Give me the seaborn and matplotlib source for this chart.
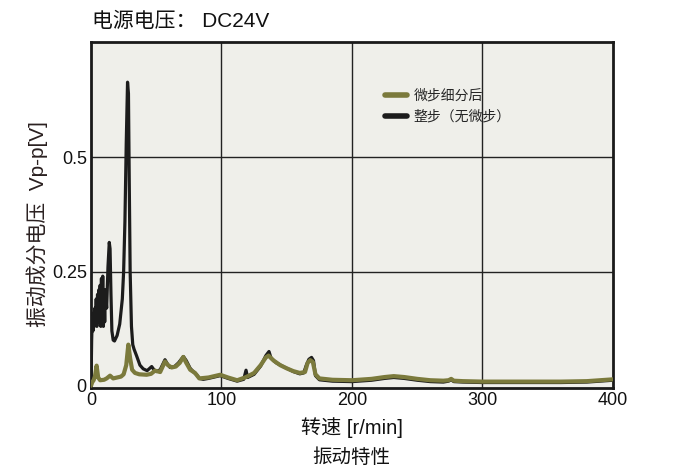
import numpy as np
import matplotlib
matplotlib.use("Agg")
import matplotlib.pyplot as plt
import pandas as pd
import seaborn as sns

# full step (no microstep) - black curve
full_speed = [0, 0.5, 1, 1.5, 2, 2.5, 3, 3.5, 4, 4.5, 5, 5.5, 6, 6.5, 7, 7.5, 8, 8.5, 9, 9.5,
              10, 10.5, 11, 12, 13, 14, 14.6, 15.3, 16, 17, 18, 20, 22, 24, 25, 26, 27, 28,
              28.7, 29.3, 30, 31, 32, 33, 35, 37.5, 40, 43, 46.5, 48, 50, 53, 56.7, 58.5, 60.6,
              64, 67, 70.8, 73, 76, 79, 81, 83, 86, 90, 99, 105, 112, 117, 118.8, 120, 125,
              130, 134, 136.4, 138, 142, 148, 155, 160, 163, 165, 167, 169, 170.5, 172, 175,
              185, 200, 215, 225, 232, 240, 250, 260, 270, 274, 276, 278, 285, 300, 330, 360,
              380, 390, 400]
full_vpp = [0.0, 0.10, 0.15, 0.12, 0.16, 0.13, 0.17, 0.14, 0.19, 0.13, 0.20, 0.15, 0.21, 0.14,
            0.22, 0.13, 0.235, 0.14, 0.24, 0.13, 0.20, 0.14, 0.21, 0.17, 0.26, 0.314, 0.30, 0.20,
            0.12, 0.10, 0.098, 0.11, 0.135, 0.19, 0.25, 0.36, 0.53, 0.665, 0.64, 0.45, 0.25,
            0.13, 0.09, 0.08, 0.065, 0.045, 0.037, 0.033, 0.042, 0.036, 0.031, 0.035, 0.057,
            0.048, 0.040, 0.042, 0.050, 0.064, 0.055, 0.038, 0.029, 0.024, 0.016, 0.014, 0.016,
            0.022, 0.016, 0.010, 0.014, 0.034, 0.018, 0.025, 0.043, 0.066, 0.075, 0.060, 0.050,
            0.041, 0.031, 0.026, 0.028, 0.045, 0.058, 0.062, 0.055, 0.022, 0.013, 0.010, 0.009,
            0.012, 0.016, 0.018, 0.016, 0.012, 0.009, 0.008, 0.010, 0.013, 0.009, 0.008, 0.007,
            0.007, 0.007, 0.008, 0.010, 0.012]

# after microstep subdivision - olive curve
micro_speed = [0, 1, 2, 3, 4.3, 5.5, 7, 10, 12, 14.6, 17, 20, 23, 25, 27, 28.6, 30, 31.5, 33.7,
               37, 42.6, 46, 49, 53, 56.7, 59, 61.8, 65, 68, 70.7, 73, 76, 79.7, 83, 90, 99,
               105, 112, 118, 121, 125, 130, 134, 136, 140, 145, 150, 155, 160, 164, 166, 168,
               170, 172, 175, 185, 200, 215, 225, 232, 240, 250, 260, 270, 274, 276, 278, 285,
               300, 330, 360, 380, 390, 400]
micro_vpp = [0.0, 0.008, 0.012, 0.02, 0.044, 0.018, 0.012, 0.013, 0.016, 0.022, 0.016, 0.018,
             0.02, 0.025, 0.045, 0.09, 0.06, 0.035, 0.028, 0.025, 0.024, 0.026, 0.033, 0.03,
             0.053, 0.045, 0.04, 0.042, 0.05, 0.063, 0.05, 0.035, 0.028, 0.016, 0.018, 0.024,
             0.018, 0.012, 0.018, 0.022, 0.028, 0.045, 0.062, 0.066, 0.055, 0.045, 0.038, 0.032,
             0.028, 0.03, 0.05, 0.056, 0.052, 0.025, 0.016, 0.013, 0.012, 0.015, 0.019, 0.021,
             0.019, 0.015, 0.012, 0.011, 0.012, 0.015, 0.011, 0.010, 0.009, 0.009, 0.009, 0.010,
             0.012, 0.014]

x_ticks = [0, 100, 200, 300, 400]
y_ticks = [0, 0.25, 0.5]
y_tick_labels = ["0", "0.25", "0.5"]

title_text = "电源电压： DC24V"
x_label = "转速 [r/min]"
y_label = "振动成分电压  Vp-p[V]"
caption = "振动特性"
label_micro = "微步细分后"
label_full = "整步（无微步）"

sns.set_theme(style="white")
fam = ["Liberation Sans", "Noto Sans CJK SC", "DejaVu Sans"]
plt.rcParams["font.family"] = fam

olive = "#7b7a3c"
black = "#1c1c1c"

fig = plt.figure(figsize=(6.76, 4.76), dpi=100)
ax = fig.add_axes([91 / 676, 88 / 476, 522 / 676, 346 / 476])
ax.set_facecolor("#efefea")

df_full = pd.DataFrame({"speed": full_speed, "vpp": full_vpp})
df_micro = pd.DataFrame({"speed": micro_speed, "vpp": micro_vpp})
sns.lineplot(data=df_full, x="speed", y="vpp", color=black, linewidth=2.3, ax=ax,
             label=label_full, zorder=3)
sns.lineplot(data=df_micro, x="speed", y="vpp", color=olive, linewidth=3.0, ax=ax,
             label=label_micro, zorder=4)

ax.set_xlim(0, 400)
ax.set_ylim(-0.005, 0.753)
ax.set_xticks(x_ticks)
ax.set_yticks(y_ticks)
ax.set_yticklabels(y_tick_labels)
ax.tick_params(axis="both", labelsize=13, length=0, pad=3, colors="#111111")
for gx in x_ticks[1:-1]:
    ax.axvline(gx, color="#222222", linewidth=1.0, zorder=1)
for gy in y_ticks[1:]:
    ax.axhline(gy, color="#222222", linewidth=1.0, zorder=1)
for s in ax.spines.values():
    s.set_visible(True)
    s.set_color("#1a1a1a")
    s.set_linewidth(2.0)

ax.set_xlabel("")
ax.set_ylabel("")
fig.text(352 / 676, 1 - 428 / 476, x_label, ha="center", va="center", fontsize=14.5,
         color="#111111")
fig.text(351 / 676, 1 - 458 / 476, caption, ha="center", va="center", fontsize=14,
         color="#111111")
fig.text(37 / 676, 1 - 224 / 476, y_label, ha="center", va="center", rotation=90,
         fontsize=15, color="#2a2020")
fig.text(92 / 676, 1 - 21 / 476, title_text, ha="left", va="center", fontsize=15,
         color="#111111")

handles, labels = ax.get_legend_handles_labels()
order = [labels.index(label_micro), labels.index(label_full)]
leg = ax.legend([handles[i] for i in order], [labels[i] for i in order],
                loc="upper left", bbox_to_anchor=(378 / 676, 1 - 82 / 476),
                bbox_transform=fig.transFigure, frameon=False, fontsize=10,
                handlelength=1.6, handletextpad=0.45, labelspacing=0.5, borderpad=0)
for h in leg.legend_handles:
    h.set_linewidth(4)

fig.savefig("out.png", dpi=100)
